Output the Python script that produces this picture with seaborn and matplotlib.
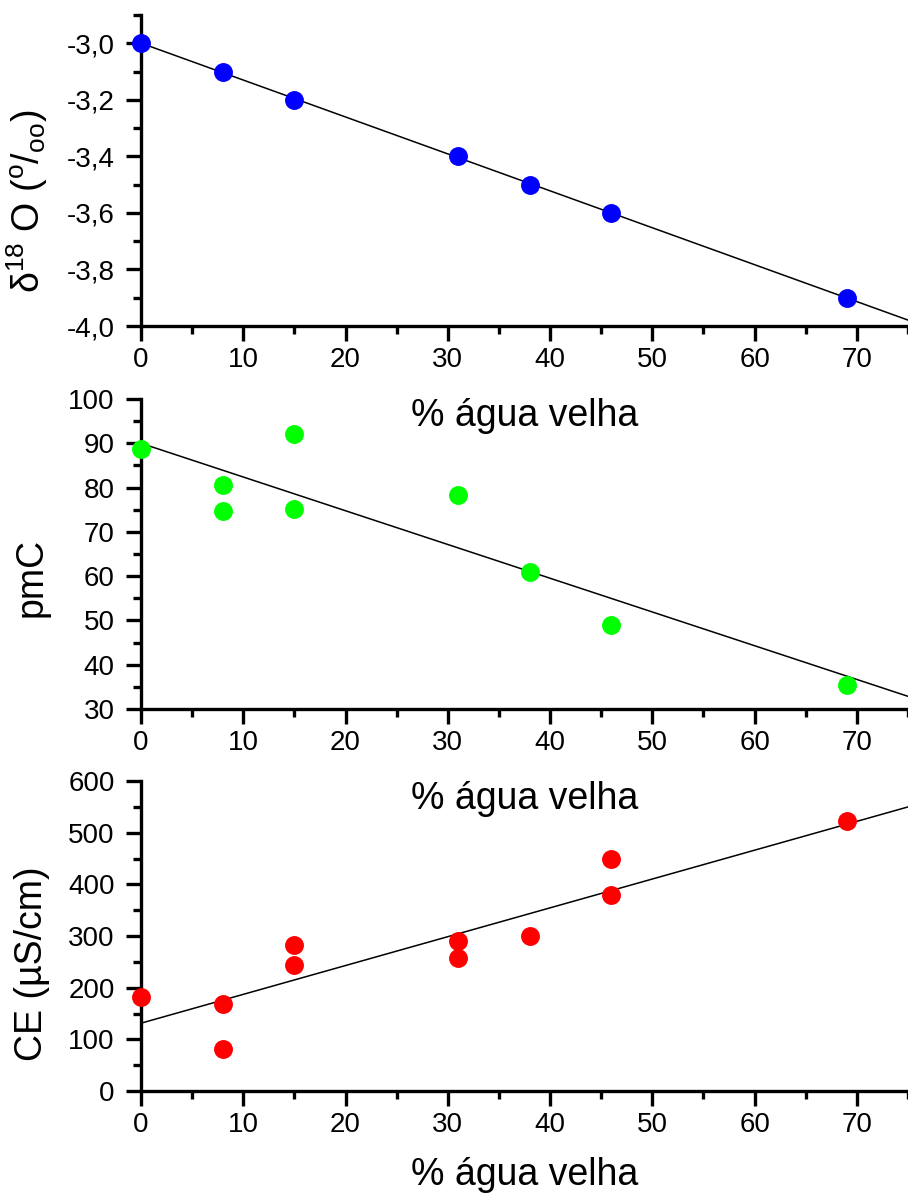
import matplotlib
matplotlib.use("Agg")
import matplotlib.pyplot as plt
from matplotlib.ticker import MultipleLocator, FuncFormatter
import seaborn as sns
import numpy as np
import pandas as pd

# % água velha and the measured values per panel
x_o18 = [0, 8, 15, 31, 38, 46, 69]
o18 = [-3.0, -3.1, -3.2, -3.4, -3.5, -3.6, -3.9]

x_pmc = [0, 8, 8, 15, 15, 31, 38, 46, 69]
pmc = [88.7, 80.6, 74.7, 92.1, 75.1, 78.3, 60.9, 49.0, 35.4]

x_ce = [0, 8, 8, 15, 15, 31, 31, 38, 46, 46, 69]
ce = [182, 168, 81, 282, 244, 290, 258, 300, 449, 380, 523]

xlabel = "% água velha"

sns.set_theme(style="ticks")
plt.rcParams["font.family"] = ["Liberation Sans", "DejaVu Sans"]
plt.rcParams["mathtext.fontset"] = "custom"
plt.rcParams["mathtext.rm"] = "Liberation Sans"
plt.rcParams["mathtext.it"] = "Liberation Sans:italic"
plt.rcParams["mathtext.default"] = "regular"

W, H = 908, 1196
fig = plt.figure(figsize=(W / 100, H / 100), dpi=100)


def make_ax(top_px, bottom_px):
    left = 141 / W
    return fig.add_axes([left, 1 - bottom_px / H, 1 - left, (bottom_px - top_px) / H])


panels = [
    dict(x=x_o18, y=o18, color="#0000ff", ylim=(-4.0, -2.9), major=0.2, minor=0.1,
         fmt=lambda v, p: f"{v:.1f}".replace(".", ","),
         ylabel="δ$^{18}$ O ($^{o}$/$_{oo}$)", lab_y=0.40, box=(15, 326), pad=18),
    dict(x=x_pmc, y=pmc, color="#00ff00", ylim=(30, 100), major=10, minor=5,
         fmt=lambda v, p: f"{v:.0f}", ylabel="pmC", lab_y=0.424, box=(399, 709),
         pad=18),
    dict(x=x_ce, y=ce, color="#ff0000", ylim=(0, 600), major=100, minor=50,
         fmt=lambda v, p: f"{v:.0f}", ylabel="CE (µS/cm)", lab_y=0.41, box=(781, 1091),
         pad=14),
]

for p in panels:
    ax = make_ax(*p["box"])
    ax.set_facecolor("none")
    df = pd.DataFrame({"x": p["x"], "y": p["y"]})
    ax.set_xlim(0, 75)
    ax.set_ylim(*p["ylim"])
    sns.regplot(data=df, x="x", y="y", scatter=False, ci=None, truncate=False,
                line_kws=dict(color="black", lw=1.1), ax=ax)
    sns.scatterplot(data=df, x="x", y="y", color=p["color"], s=185,
                    linewidth=0, ax=ax, zorder=3, clip_on=False)
    ax.set_xlim(0, 75)
    ax.set_ylim(*p["ylim"])

    ax.xaxis.set_major_locator(MultipleLocator(10))
    ax.xaxis.set_minor_locator(MultipleLocator(5))
    ax.yaxis.set_major_locator(MultipleLocator(p["major"]))
    ax.yaxis.set_minor_locator(MultipleLocator(p["minor"]))
    ax.yaxis.set_major_formatter(FuncFormatter(p["fmt"]))

    sns.despine(ax=ax)
    for s in ["left", "bottom"]:
        ax.spines[s].set_linewidth(2.4)
        ax.spines[s].set_color("black")
    ax.tick_params(which="major", direction="out", length=11, width=2.4,
                   labelsize=20, colors="black")
    ax.tick_params(which="minor", direction="out", length=5.5, width=2.4,
                   colors="black")
    ax.tick_params(axis="x", pad=4)
    ax.tick_params(axis="y", pad=8)

    ax.set_xlabel(xlabel, fontsize=27, labelpad=p["pad"], color="black")
    ax.set_ylabel(p["ylabel"], fontsize=27, color="black")
    ax.yaxis.set_label_coords(-0.119, p["lab_y"])
    ax.grid(False)

fig.savefig("out.png", dpi=100, facecolor="white")
